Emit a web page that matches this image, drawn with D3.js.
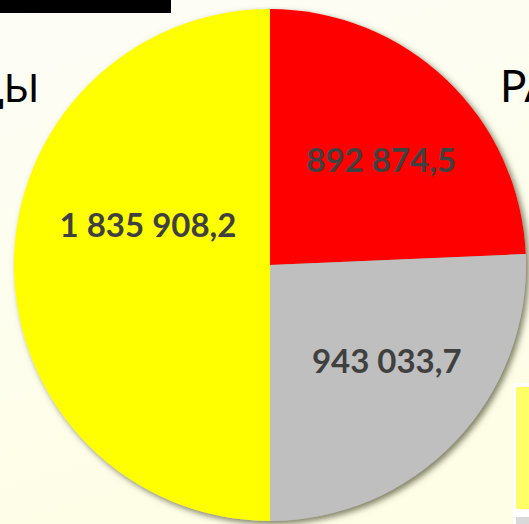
<!DOCTYPE html>
<html>
<head>
<meta charset="utf-8">
<script src="https://cdn.jsdelivr.net/npm/d3@7"></script>
<style>
html,body{margin:0;padding:0;overflow:hidden;}
svg{display:block;}
</style>
</head>
<body>
<div id="chart"></div>
<script>
// data
var categories=["red","gray","yellow"]
var values=[892874.5,943033.7,1835908.2]
var colors=["#ff0000","#bfbfbf","#ffff00"]
var legendColors=["#ffff66","#d9d9d9"]
// label nudges (px) relative to arc centroid
var labelNudge=[[6,5],[7,-9],[30,-40]]

var svgW=529, svgH=524
var svg=d3.select('#chart').append('svg')
    .attr('width',svgW)
    .attr('height',svgH)

var defs=svg.append('defs')
var bg=defs.append('linearGradient').attr('id','bg')
    .attr('x1',0).attr('y1',0).attr('x2',0.3).attr('y2',1)
bg.append('stop').attr('offset','0%').attr('stop-color','#fdfdf7')
bg.append('stop').attr('offset','100%').attr('stop-color','#fefee6')

var sh=defs.append('filter').attr('id','shadow')
    .attr('x','-10%').attr('y','-10%').attr('width','120%').attr('height','120%')
sh.append('feDropShadow')
    .attr('dx',3).attr('dy',3).attr('stdDeviation',3)
    .attr('flood-color','#5e5e44').attr('flood-opacity',0.8)

svg.append('rect').attr('width',svgW).attr('height',svgH).attr('fill','url(#bg)')

// top black bar (cut title box)
svg.append('rect').attr('x',0).attr('y',0).attr('width',171).attr('height',13).attr('fill','#000')

// side titles, cut by the frame as in the original
svg.append('text').attr('x',39).attr('y',102)
    .attr('text-anchor','end')
    .style('font-family','Lato, Carlito, sans-serif').style('font-size','39px')
    .attr('fill','#000').text('ДОХОДЫ')
svg.append('text').attr('x',500).attr('y',102)
    .style('font-family','Lato, Carlito, sans-serif').style('font-size','44px')
    .attr('fill','#000').text('РАСХОДЫ')

var radius=256
var chart=svg.append('g')
    .attr('transform','translate(270,265)')

var pie=d3.pie().sort(null).value(d=>d)
var arcs=pie(values)
var arc=d3.arc().innerRadius(0).outerRadius(radius)
var labelArc=d3.arc().innerRadius(152).outerRadius(152)

chart.append('g').attr('filter','url(#shadow)')
    .selectAll('path')
    .data(arcs)
    .enter().append('path')
    .attr('d',arc)
    .attr('fill',(d,i)=>colors[i])

var ru=d3.formatLocale({decimal:",",thousands:"\u00a0",grouping:[3],currency:["",""]})
var fmt=ru.format(",.1f")

chart.selectAll('text.lbl')
    .data(arcs)
    .enter().append('text')
    .attr('class','lbl')
    .attr('transform',(d,i)=>{
        var c=labelArc.centroid(d)
        return `translate(${c[0]+labelNudge[i][0]},${c[1]+labelNudge[i][1]})`
    })
    .attr('text-anchor','middle')
    .attr('dy','0.36em')
    .style('font-family','Lato, Carlito, sans-serif')
    .style('font-weight','bold')
    .style('font-size','33px')
    .attr('fill','#404040')
    .text(d=>fmt(d.data))

// legend (partly outside the frame)
var legend=svg.append('g').attr('transform','translate(513,383)')
legend.append('rect').attr('width',40).attr('height',160).attr('fill','#fff')
legend.selectAll('rect.sw')
    .data(legendColors)
    .enter().append('rect')
    .attr('class','sw')
    .attr('x',3)
    .attr('y',(d,i)=>4+i*130)
    .attr('width',30)
    .attr('height',122)
    .attr('fill',d=>d)
</script>
</body>
</html>
